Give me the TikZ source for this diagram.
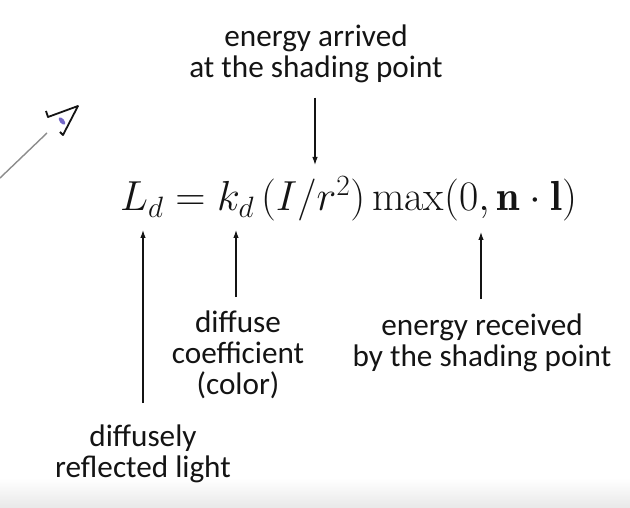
\RequirePackage{fix-cm}
\documentclass[tikz,border=0pt]{standalone}
\usepackage{amsmath}
\usepackage{fontspec}
\usetikzlibrary{arrows.meta}
\newfontfamily\labelfont{Carlito}
\definecolor{ink}   {HTML}{141414}
\definecolor{pen}   {HTML}{8C8C8C}
\definecolor{marker}{HTML}{7468C8}
\tikzset{
  lbl/.style ={font=\fontsize{31.2}{31}\selectfont\labelfont, text=ink,
               align=center, inner sep=0pt, anchor=base},
  eqn/.style ={font=\fontsize{42}{50}\selectfont, text=ink,
               inner sep=0pt, anchor=base west},
  arr/.style ={-{Latex[length=8pt,width=5.5pt]}, line width=1.1pt, draw=ink},
}

\begin{document}
\begin{tikzpicture}[x=1pt,y=-1pt]
  \useasboundingbox (0,0) rectangle (630,508);
  \shade[top color=white, bottom color=black!9] (0,478) rectangle (630,508);

  \node[eqn] (eq) at (120,211)
    {$L_d = k_d\,(I/r^2)\max(0,\mathbf{n}\cdot\mathbf{l})$};

  \node[lbl] (arrived) at (316,78)  {energy arrived\\at the shading point};
  \node[lbl] (coef)    at (238,394) {diffuse\\coefficient\\(color)};
  \node[lbl] (recv)    at (482,366) {energy received\\by the shading point};
  \node[lbl] (refl)    at (143,477) {diffusely\\reflected light};

  \coordinate (tipT) at (315,165);
  \coordinate (tipL) at (143,230);
  \coordinate (tipK) at (236,230);
  \coordinate (tipR) at (481,232);

  \draw[arr, shorten <=14pt] (tipT |- arrived.south) -- (tipT);
  \draw[arr, shorten <=21pt] (tipL |- refl.north) -- (tipL);
  \draw[arr, shorten <=13pt] (tipK |- coef.north) -- (tipK);
  \draw[arr, shorten <=14pt] (tipR |- recv.north) -- (tipR);

  % pen marks on the slide
  \draw[pen, line width=1.4pt] (0,178) -- (47,133);
  \draw[ink, line width=1.8pt, line join=round]
    (46,111) -- (48,117) -- (78,106) -- (63,135) -- (60,132);
  \fill[marker, rotate around={-50:(62,121)}] (62,121) ellipse (4.5pt and 2.2pt);
\end{tikzpicture}
\end{document}
